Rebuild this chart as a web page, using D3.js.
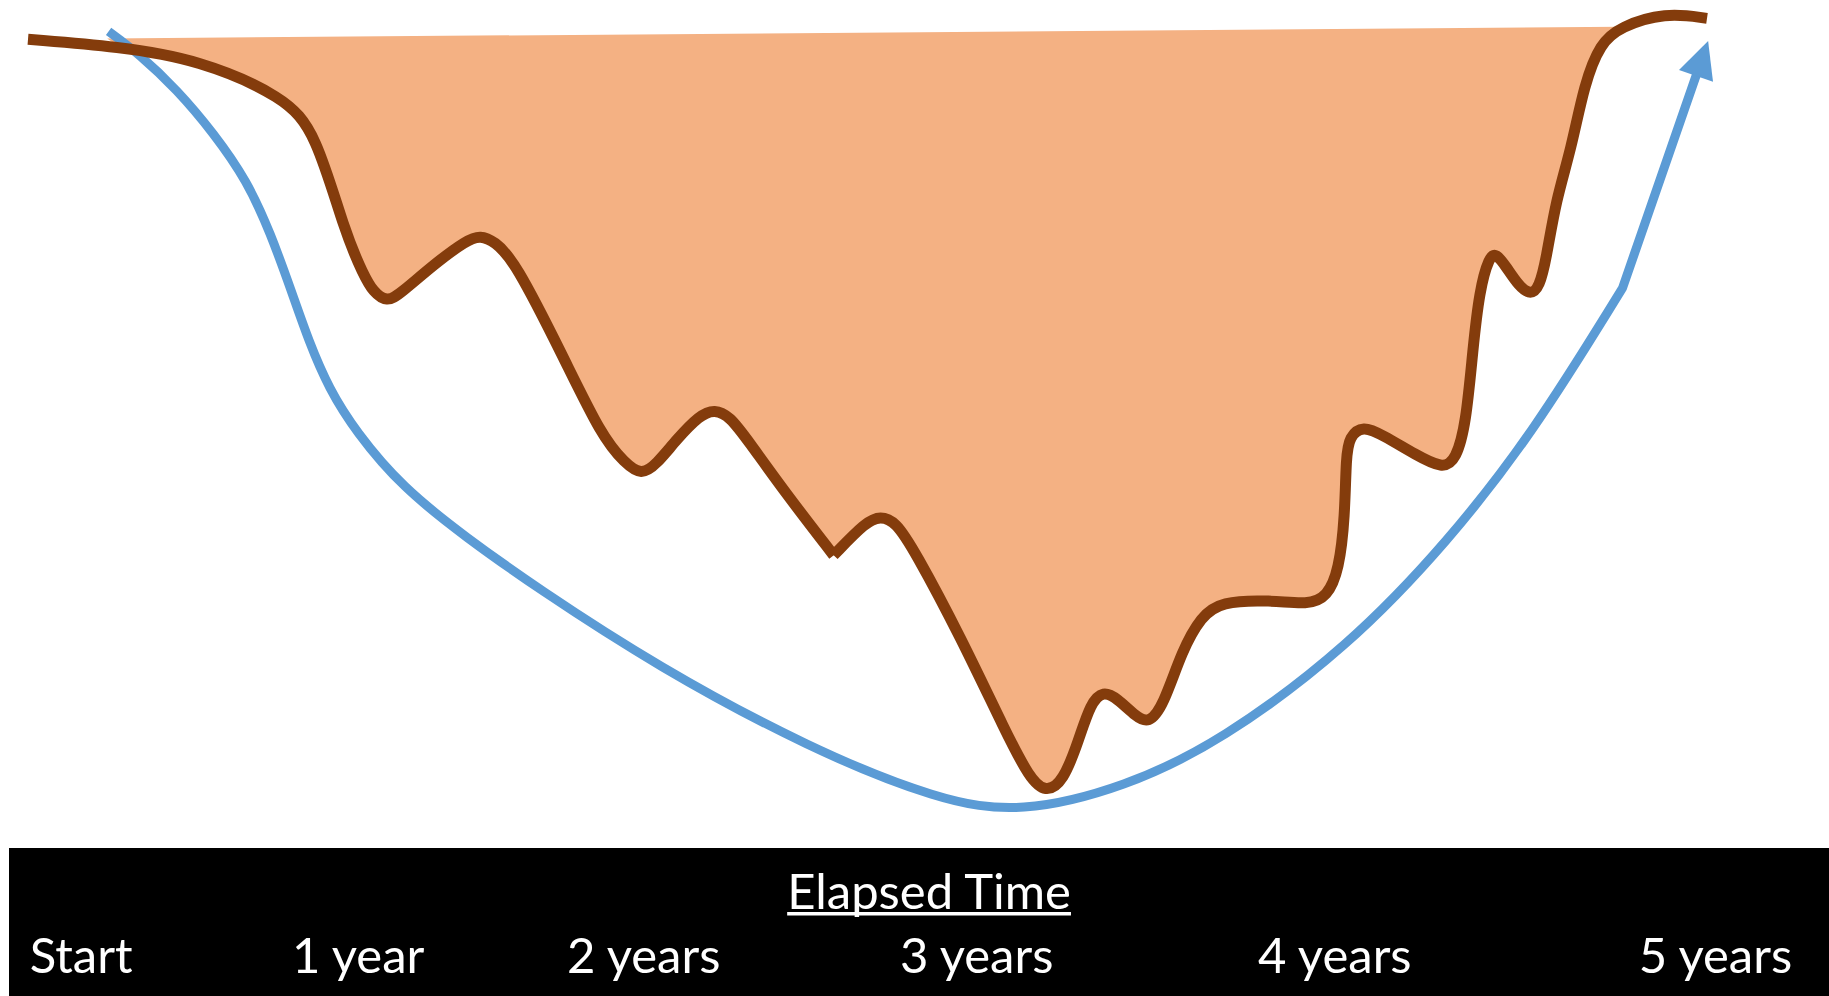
<!DOCTYPE html>
<html>
<head>
<meta charset="utf-8">
<script src="https://cdn.jsdelivr.net/npm/d3@7"></script>
<style>
  html, body { margin: 0; padding: 0; background: #fff; }
  svg { display: block; }
  text { font-family: Lato, "Open Sans", sans-serif; fill: #fff; }
</style>
</head>
<body>
<svg id="chart"></svg>
<script>
// [month since start, value (start = 100)]
const brownBeforeDip = [
  [0, 99.9], [3.25, 99.0], [6.08, 97.43], [9.17, 92.86], [10.29, 88.43], [11.33, 76.14],
  [12.0, 71.0], [12.33, 69.0], [12.83, 67.7], [13.29, 68.71], [14.54, 72.43], [15.67, 75.29],
  [16.17, 75.9], [16.67, 75.14], [17.38, 72.86], [19.13, 61.0], [20.5, 51.29], [21.33, 48.0],
  [21.92, 46.5], [22.46, 47.86], [23.17, 50.86], [24.0, 53.86], [24.54, 54.6], [25.08, 53.71],
  [25.71, 50.86], [27.08, 44.29], [28.79, 36.71]
];
const brownAfterDip = [
  [28.79, 36.71], [29.96, 40.86], [30.46, 41.5], [31.0, 40.86], [31.67, 37.36], [33.33, 26.71],
  [34.96, 14.91], [35.78, 9.5], [36.36, 7.6], [37.0, 9.0], [37.55, 14.09], [37.97, 18.57],
  [38.42, 20.1], [38.92, 19.2], [39.6, 16.94], [40.04, 16.1], [40.56, 18.17], [41.25, 25.14],
  [41.93, 29.19], [42.61, 31.03], [44.39, 31.23], [45.75, 30.63], [46.43, 31.64], [46.85, 34.91],
  [47.06, 41.43], [47.1, 48.79], [47.22, 51.24], [47.7, 52.6], [48.41, 51.44], [49.6, 49.0],
  [50.55, 47.3], [51.03, 48.39], [51.39, 52.87], [51.63, 61.86], [51.87, 69.2], [52.22, 73.29],
  [52.46, 73.7], [52.82, 72.06], [53.29, 69.6], [53.71, 68.6], [54.01, 69.6], [54.25, 72.87],
  [54.6, 80.21], [55.14, 86.34], [55.62, 94.51], [56.19, 99.41], [56.9, 101.44], [58.5, 103.2],
  [60.0, 102.47]
];
const blueCurve = [
  [2.88, 100.86], [3.96, 98.14], [5.33, 93.71], [6.63, 88.43], [7.83, 82.57], [8.67, 76.14],
  [9.42, 69.0], [10.04, 62.86], [10.75, 57.14], [11.71, 51.86], [13.38, 45.0], [15.67, 38.86],
  [18.13, 32.86], [22.5, 23.07], [27.96, 13.0], [32.54, 6.7], [35.46, 5.05], [39.21, 8.3],
  [42.63, 13.9], [47.21, 25.57], [50.79, 38.57], [53.77, 51.64], [56.98, 69.43]
];
const blueArrow = [[56.98, 69.43], [60.04, 99.7]];
const fillTopLeft = [2.83, 100.0];
const fillRange = [3, 57];

const tickLabels = ['Start', '1 year', '2 years', '3 years', '4 years', '5 years'];
const tickMonths = [1.9, 11.8, 22.0, 33.9, 46.7, 60.3];
const axisTitle = 'Elapsed Time';
const axisTitleMonth = 32.2;

const width = 1829, height = 996;
const band = { top: 848, left: 9 };

const svg = d3.select('#chart')
  .attr('width', width)
  .attr('height', height);

const x = d3.scaleLinear().domain([0, 60]).range([28, 1707]);
const y = d3.scaleLinear().domain([0, 100]).range([855, 38.5]);

const line = d3.line()
  .x(d => x(d[0]))
  .y(d => y(d[1]))
  .curve(d3.curveBasis);

// shaded drawdown area: brown line closed by a straight top edge
const inFill = d => d[0] >= fillRange[0] && d[0] <= fillRange[1];
const fillPath = `M${x(fillTopLeft[0])},${y(fillTopLeft[1])}`
  + line(brownBeforeDip.filter(inFill)).replace(/^M/, 'L')
  + line(brownAfterDip.filter(inFill)).replace(/^M/, 'L')
  + 'Z';

svg.append('path')
  .attr('d', fillPath)
  .attr('fill', '#f4b183');

// blue trend curve with arrow
const arrowLen = 37, arrowHalf = 18;
const p0 = [x(blueArrow[0][0]), y(blueArrow[0][1])];
const p1 = [x(blueArrow[1][0]), y(blueArrow[1][1])];
const ang = Math.atan2(p1[1] - p0[1], p1[0] - p0[0]);
const base = [p1[0] - arrowLen * Math.cos(ang), p1[1] - arrowLen * Math.sin(ang)];
const nx = -Math.sin(ang), ny = Math.cos(ang);

svg.append('path')
  .attr('d', line(blueCurve) + `L${base[0] + 2 * Math.cos(ang)},${base[1] + 2 * Math.sin(ang)}`)
  .attr('fill', 'none')
  .attr('stroke', '#5b9bd5')
  .attr('stroke-width', 9)
  .attr('stroke-linejoin', 'miter');

svg.append('path')
  .attr('d', `M${p1[0]},${p1[1]}L${base[0] + nx * arrowHalf},${base[1] + ny * arrowHalf}`
    + `L${base[0] - nx * arrowHalf},${base[1] - ny * arrowHalf}Z`)
  .attr('fill', '#5b9bd5');

// brown value line
svg.selectAll('path.value')
  .data([brownBeforeDip, brownAfterDip])
  .enter()
  .append('path')
  .attr('class', 'value')
  .attr('d', line)
  .attr('fill', 'none')
  .attr('stroke', '#843c0c')
  .attr('stroke-width', 11)
  .attr('stroke-linejoin', 'round');

// time band
svg.append('rect')
  .attr('x', band.left)
  .attr('y', band.top)
  .attr('width', width - band.left)
  .attr('height', height - band.top)
  .attr('fill', '#000');

const title = svg.append('text')
  .attr('x', x(axisTitleMonth))
  .attr('y', 909)
  .attr('text-anchor', 'middle')
  .style('font-size', '49px')
  .text(axisTitle);

const tb = title.node().getBBox();
svg.append('rect')
  .attr('x', tb.x)
  .attr('y', 912)
  .attr('width', tb.width)
  .attr('height', 3.5)
  .attr('fill', '#fff');

svg.selectAll('text.tick')
  .data(tickLabels)
  .enter()
  .append('text')
  .attr('class', 'tick')
  .attr('x', (d, i) => x(tickMonths[i]))
  .attr('y', 973)
  .attr('text-anchor', 'middle')
  .style('font-size', '49px')
  .text(d => d);
</script>
</body>
</html>
